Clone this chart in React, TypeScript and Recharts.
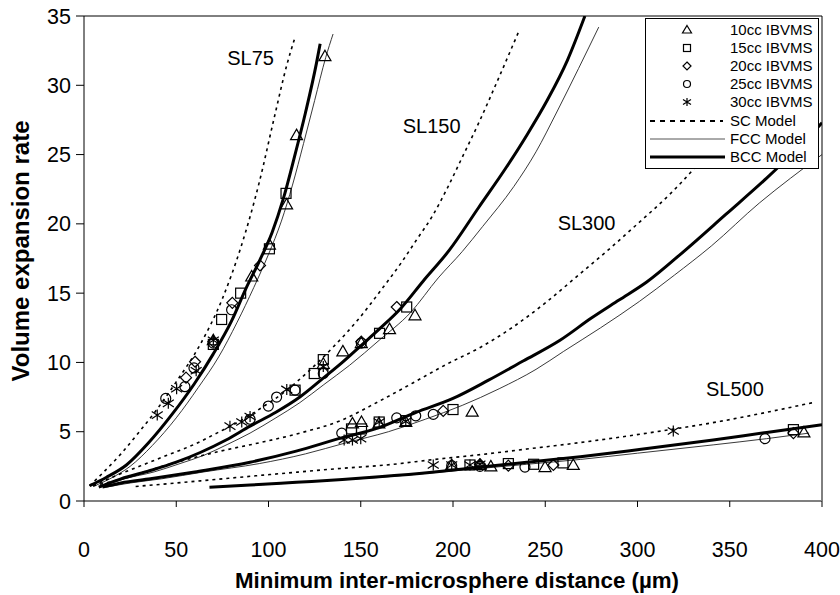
import React from 'react';
import {
  ComposedChart,
  Line,
  Scatter,
  XAxis,
  YAxis,
  ReferenceLine,
  ReferenceDot,
  Legend,
  Label,
} from 'recharts';

type Pt = [number, number];

const FONT = "'Liberation Sans', Arial, Helvetica, sans-serif";

const xTicks = [0, 50, 100, 150, 200, 250, 300, 350, 400];
const yTicks = [0, 5, 10, 15, 20, 25, 30, 35];

// model curves
const sl75Sc: Pt[] = [[3, 1.1], [10, 2.0], [20, 3.4], [30, 5.0], [40, 6.7], [50, 8.6], [63, 11.3], [75, 14.6], [85, 18.3], [95, 23.0], [103, 27.6], [110, 31.5], [114, 33.3]];
const sl75Fcc: Pt[] = [[5, 1.05], [14, 1.6], [25, 2.5], [37, 4.0], [50, 6.0], [62, 8.2], [73, 10.4], [83, 12.9], [92, 15.4], [100, 17.8], [107, 20.2], [113, 22.8], [119, 25.8], [125, 28.9], [131, 32.0], [135, 33.7]];
const sl75Bcc: Pt[] = [[3, 1.1], [12, 1.7], [23, 2.6], [35, 4.2], [48, 6.3], [60, 8.5], [70, 10.6], [80, 13.0], [88, 15.4], [95, 17.3], [102, 19.4], [108, 21.8], [114, 24.8], [120, 28.0], [126, 31.6], [128, 33.0]];

const sl150Sc: Pt[] = [[5, 1.1], [15, 1.7], [30, 2.5], [45, 3.3], [60, 4.1], [72, 4.9], [85, 5.8], [97, 6.8], [108, 7.8], [122, 9.4], [135, 11.1], [148, 13.0], [162, 15.4], [172, 17.2], [180, 18.8], [189, 20.6], [197, 22.6], [205, 24.8], [214, 27.3], [225, 30.6], [236, 34.0]];
const sl150Fcc: Pt[] = [[9, 1.0], [22, 1.6], [38, 2.1], [52, 2.7], [65, 3.3], [78, 4.1], [90, 4.9], [104, 6.0], [117, 7.1], [130, 8.4], [144, 9.8], [160, 11.6], [177, 13.6], [192, 16.1], [205, 18.0], [216, 19.8], [233, 22.7], [245, 25.2], [256, 28.0], [268, 31.2], [279, 34.2]];
const sl150Bcc: Pt[] = [[8, 1.0], [20, 1.6], [36, 2.2], [50, 2.8], [63, 3.5], [77, 4.4], [90, 5.4], [104, 6.4], [117, 7.5], [130, 8.9], [140, 10.0], [150, 11.2], [160, 12.4], [171, 13.8], [184, 15.9], [198, 18.1], [214, 21.2], [229, 24.1], [240, 26.4], [251, 28.9], [262, 31.8], [271.5, 35]];

const sl300Sc: Pt[] = [[5, 1.1], [18, 1.5], [45, 2.6], [74, 3.6], [95, 4.2], [117, 4.9], [139, 5.8], [160, 7.2], [178, 8.5], [197, 9.9], [215, 11.1], [233, 12.6], [251, 14.4], [268, 16.3], [284, 18.1], [300, 20.0], [318, 22.2], [330, 23.9], [345, 26.4], [360, 29.3], [372, 32.0]];
const sl300Fcc: Pt[] = [[12, 1.0], [25, 1.3], [42, 1.6], [65, 2.1], [95, 2.7], [120, 3.4], [142, 4.2], [165, 5.0], [185, 5.9], [205, 6.9], [225, 8.1], [245, 9.5], [260, 10.8], [280, 12.5], [301, 14.4], [320, 16.3], [340, 18.4], [366, 21.5], [383, 23.3], [400, 25.0]];
const sl300Bcc: Pt[] = [[10, 1.0], [20, 1.3], [36, 1.6], [60, 2.1], [90, 2.8], [115, 3.6], [138, 4.5], [160, 5.3], [180, 6.4], [200, 7.4], [219, 8.7], [238, 10.1], [258, 11.6], [275, 13.2], [290, 14.5], [305, 15.8], [325, 18.0], [348, 20.7], [370, 23.3], [385, 25.2], [400, 27.3]];

const sl500Sc: Pt[] = [[28, 1.05], [50, 1.3], [75, 1.6], [100, 1.9], [117, 2.1], [139, 2.35], [164, 2.6], [190, 3.0], [215, 3.35], [240, 3.75], [265, 4.15], [290, 4.6], [320, 5.2], [345, 5.75], [370, 6.4], [395, 7.1]];
const sl500Fcc: Pt[] = [[70, 1.0], [100, 1.2], [130, 1.45], [160, 1.7], [190, 2.05], [215, 2.35], [240, 2.65], [269, 3.0], [300, 3.45], [341, 4.05], [370, 4.5], [393, 4.9]];
const sl500Bcc: Pt[] = [[68, 1.0], [90, 1.15], [115, 1.35], [140, 1.55], [160, 1.75], [190, 2.1], [215, 2.45], [240, 2.8], [269, 3.2], [300, 3.7], [341, 4.4], [370, 4.95], [400, 5.5]];

// measured points (IBVMS)
const cc10: Pt[] = [
  [130.6, 32.1], [115.2, 26.4], [109.8, 21.4], [100.5, 18.5], [90.9, 16.2], [70.1, 11.6],
  [179.4, 13.4], [165.6, 12.4], [150.3, 11.4], [140.3, 10.8], [129.7, 9.9],
  [145.5, 5.6], [150.4, 5.7], [159.8, 5.6], [174.4, 5.7], [210.4, 6.45],
  [199.3, 2.6], [214.6, 2.6], [220.5, 2.5], [249.9, 2.45], [265.2, 2.6], [390.2, 4.95],
];
const cc15: Pt[] = [
  [109.5, 22.2], [100.5, 18.2], [84.9, 15.0], [74.6, 13.1], [70.1, 11.3],
  [174.9, 14.0], [160.2, 12.1], [129.7, 10.2], [124.8, 9.2], [114.4, 8.0],
  [145, 5.2], [150.4, 5.2], [160, 5.7], [174.4, 5.8], [200, 6.6],
  [209.2, 2.6], [230, 2.7], [243.7, 2.65], [259.6, 2.75], [384.5, 5.15],
];
const cc20: Pt[] = [
  [95.4, 17.0], [80.4, 14.3], [70.1, 11.5], [60.2, 10.05], [55.3, 8.9],
  [169.5, 14.0], [150.3, 11.5],
  [194.7, 6.5],
  [214.6, 2.65], [230, 2.55], [254.4, 2.6], [384.5, 4.9],
];
const cc25: Pt[] = [
  [80, 13.8], [59.6, 9.6], [54.7, 8.25], [44.3, 7.4], [70.1, 11.4],
  [150.3, 11.4], [129.7, 9.2], [114.4, 8.0], [104.4, 7.5], [99.9, 6.85], [90, 5.9],
  [139.7, 4.9], [169.5, 6.0], [179.8, 6.15], [189.3, 6.25],
  [199.3, 2.55], [214.6, 2.5], [239, 2.45], [369.1, 4.5],
];
const cc30: Pt[] = [
  [70.1, 11.6], [60.8, 9.4], [50.2, 8.1], [45.7, 7.05], [39.7, 6.2],
  [129.7, 9.7], [109.9, 8.05], [90, 6.1], [85.5, 5.7], [79.1, 5.4],
  [141, 4.4], [145.5, 4.4], [150, 4.5], [160, 5.7], [174.4, 5.75],
  [189.3, 2.6], [199.3, 2.6], [209.2, 2.6], [214.6, 2.65], [319.4, 5.05],
];

const groupLabels = [
  { text: 'SL75', x: 90.3, y: 32.0 },
  { text: 'SL150', x: 188.4, y: 27.1 },
  { text: 'SL300', x: 272.4, y: 20.1 },
  { text: 'SL500', x: 352.8, y: 8.1 },
];

type Model = 'sc' | 'fcc' | 'bcc';
type Kind = 'tri' | 'sq' | 'dia' | 'circ' | 'ast';

const toXY = (pts: Pt[]) => pts.map(([x, y]) => ({ x, y }));

const curves: { key: string; pts: Pt[]; model: Model }[] = [
  { key: 'sl75Sc', pts: sl75Sc, model: 'sc' },
  { key: 'sl75Fcc', pts: sl75Fcc, model: 'fcc' },
  { key: 'sl75Bcc', pts: sl75Bcc, model: 'bcc' },
  { key: 'sl150Sc', pts: sl150Sc, model: 'sc' },
  { key: 'sl150Fcc', pts: sl150Fcc, model: 'fcc' },
  { key: 'sl150Bcc', pts: sl150Bcc, model: 'bcc' },
  { key: 'sl300Sc', pts: sl300Sc, model: 'sc' },
  { key: 'sl300Fcc', pts: sl300Fcc, model: 'fcc' },
  { key: 'sl300Bcc', pts: sl300Bcc, model: 'bcc' },
  { key: 'sl500Sc', pts: sl500Sc, model: 'sc' },
  { key: 'sl500Fcc', pts: sl500Fcc, model: 'fcc' },
  { key: 'sl500Bcc', pts: sl500Bcc, model: 'bcc' },
];

const pointSets: { name: string; pts: Pt[]; kind: Kind }[] = [
  { name: '10cc IBVMS', pts: cc10, kind: 'tri' },
  { name: '15cc IBVMS', pts: cc15, kind: 'sq' },
  { name: '20cc IBVMS', pts: cc20, kind: 'dia' },
  { name: '25cc IBVMS', pts: cc25, kind: 'circ' },
  { name: '30cc IBVMS', pts: cc30, kind: 'ast' },
];

const lineStyle: Record<Model, { stroke: string; strokeWidth: number; strokeDasharray?: string }> = {
  sc: { stroke: '#000', strokeWidth: 1.6, strokeDasharray: '3 4' },
  fcc: { stroke: '#222', strokeWidth: 0.9 },
  bcc: { stroke: '#000', strokeWidth: 3 },
};

function Marker({ kind, cx, cy, s = 11 }: { kind: Kind; cx: number; cy: number; s?: number }) {
  const h = s / 2;
  const common = { fill: 'none', stroke: '#000', strokeWidth: 1.2 };
  if (kind === 'tri')
    return <path d={`M${cx},${cy - h - 0.5}L${cx + h + 0.5},${cy + h - 1}L${cx - h - 0.5},${cy + h - 1}Z`} {...common} />;
  if (kind === 'sq') return <rect x={cx - h + 0.5} y={cy - h + 0.5} width={s - 1} height={s - 1} {...common} />;
  if (kind === 'dia') return <path d={`M${cx},${cy - h}L${cx + h},${cy}L${cx},${cy + h}L${cx - h},${cy}Z`} {...common} />;
  if (kind === 'circ') return <circle cx={cx} cy={cy} r={h - 0.5} {...common} />;
  return (
    <path
      d={`M${cx},${cy - h}L${cx},${cy + h}M${cx - h},${cy - h * 0.65}L${cx + h},${cy + h * 0.65}M${cx - h},${cy + h * 0.65}L${cx + h},${cy - h * 0.65}`}
      {...common}
    />
  );
}

const legendRows: { label: string; kind: Kind | Model }[] = [
  { label: '10cc IBVMS', kind: 'tri' },
  { label: '15cc IBVMS', kind: 'sq' },
  { label: '20cc IBVMS', kind: 'dia' },
  { label: '25cc IBVMS', kind: 'circ' },
  { label: '30cc IBVMS', kind: 'ast' },
  { label: 'SC Model', kind: 'sc' },
  { label: 'FCC Model', kind: 'fcc' },
  { label: 'BCC Model', kind: 'bcc' },
];

function renderLegend() {
  return (
    <div
      style={{
        width: 174,
        height: 151,
        boxSizing: 'border-box',
        border: '1px solid #000',
        background: '#fff',
        paddingTop: 1.5,
      }}
    >
      {legendRows.map((r) => (
        <div key={r.label} style={{ display: 'flex', alignItems: 'center', height: 18.2 }}>
          <svg width={80} height={18} style={{ display: 'block' }}>
            {r.kind === 'sc' && <line x1={4} x2={77} y1={9} y2={9} stroke="#000" strokeWidth={1.8} strokeDasharray="5 5" />}
            {r.kind === 'fcc' && <line x1={4} x2={79} y1={9} y2={9} stroke="#555" strokeWidth={1} />}
            {r.kind === 'bcc' && <line x1={4} x2={79} y1={9} y2={9} stroke="#000" strokeWidth={3} />}
            {r.kind !== 'sc' && r.kind !== 'fcc' && r.kind !== 'bcc' && (
              <Marker kind={r.kind as Kind} cx={41} cy={9} s={8} />
            )}
          </svg>
          <span style={{ fontFamily: FONT, fontSize: 15, lineHeight: '18px', marginLeft: 4, color: '#000' }}>
            {r.label}
          </span>
        </div>
      ))}
    </div>
  );
}

function XTitle(props: any) {
  const vb = props.viewBox || { x: 84, width: 738 };
  return (
    <text x={vb.x + vb.width / 2 + 4} y={588} textAnchor="middle" fontFamily={FONT} fontSize={22.3} fontWeight="bold" fill="#000">
      Minimum inter-microsphere distance (µm)
    </text>
  );
}

function YTitle() {
  const cx = 20;
  const cy = 251;
  return (
    <text
      x={cx}
      y={cy}
      transform={`rotate(-90 ${cx} ${cy})`}
      textAnchor="middle"
      dominantBaseline="central"
      fontFamily={FONT}
      fontSize={24}
      fontWeight="bold"
      fill="#000"
    >
      Volume expansion rate
    </text>
  );
}

export default function App() {
  return (
    <div style={{ width: 840, height: 595, background: '#fff' }}>
      <style>{'body{margin:0;background:#fff}'}</style>
      <ComposedChart width={840} height={595} margin={{ top: 16, right: 18, left: 0, bottom: 0 }}>
        <XAxis
          type="number"
          dataKey="x"
          domain={[0, 400]}
          ticks={xTicks}
          allowDataOverflow
          height={94}
          tickSize={6}
          tickMargin={35}
          axisLine={{ stroke: '#7f7f7f', strokeWidth: 2 }}
          tickLine={{ stroke: '#000' }}
          tick={{ fill: '#000', fontSize: 21.5, fontFamily: FONT }}
        >
          <Label content={<XTitle />} />
        </XAxis>
        <YAxis
          type="number"
          dataKey="y"
          domain={[0, 35]}
          ticks={yTicks}
          allowDataOverflow
          width={84}
          tickSize={8}
          tickMargin={5}
          axisLine={{ stroke: '#000' }}
          tickLine={{ stroke: '#000' }}
          tick={{ fill: '#000', fontSize: 21.5, fontFamily: FONT }}
        >
          <Label content={<YTitle />} />
        </YAxis>
        <ReferenceLine y={35} stroke="#000" strokeWidth={1} />
        <ReferenceLine x={400} stroke="#000" strokeWidth={1} />
        {curves.map((c) => (
          <Line
            key={c.key}
            data={toXY(c.pts)}
            dataKey="y"
            type="monotone"
            dot={false}
            activeDot={false}
            legendType="none"
            isAnimationActive={false}
            {...lineStyle[c.model]}
          />
        ))}
        {pointSets.map((p) => (
          <Scatter
            key={p.name}
            name={p.name}
            data={toXY(p.pts)}
            isAnimationActive={false}
            shape={(sp: any) => <Marker kind={p.kind} cx={sp.cx} cy={sp.cy} />}
          />
        ))}
        {groupLabels.map((g) => (
          <ReferenceDot
            key={g.text}
            x={g.x}
            y={g.y}
            r={0}
            fill="none"
            stroke="none"
            label={{ value: g.text, position: 'center', fill: '#000', fontSize: 20, fontFamily: FONT }}
          />
        ))}
        <Legend
          layout="vertical"
          align="center"
          verticalAlign="middle"
          content={renderLegend}
          wrapperStyle={{ position: 'absolute', left: 645, top: 18, width: 174, height: 151 }}
        />
      </ComposedChart>
    </div>
  );
}
